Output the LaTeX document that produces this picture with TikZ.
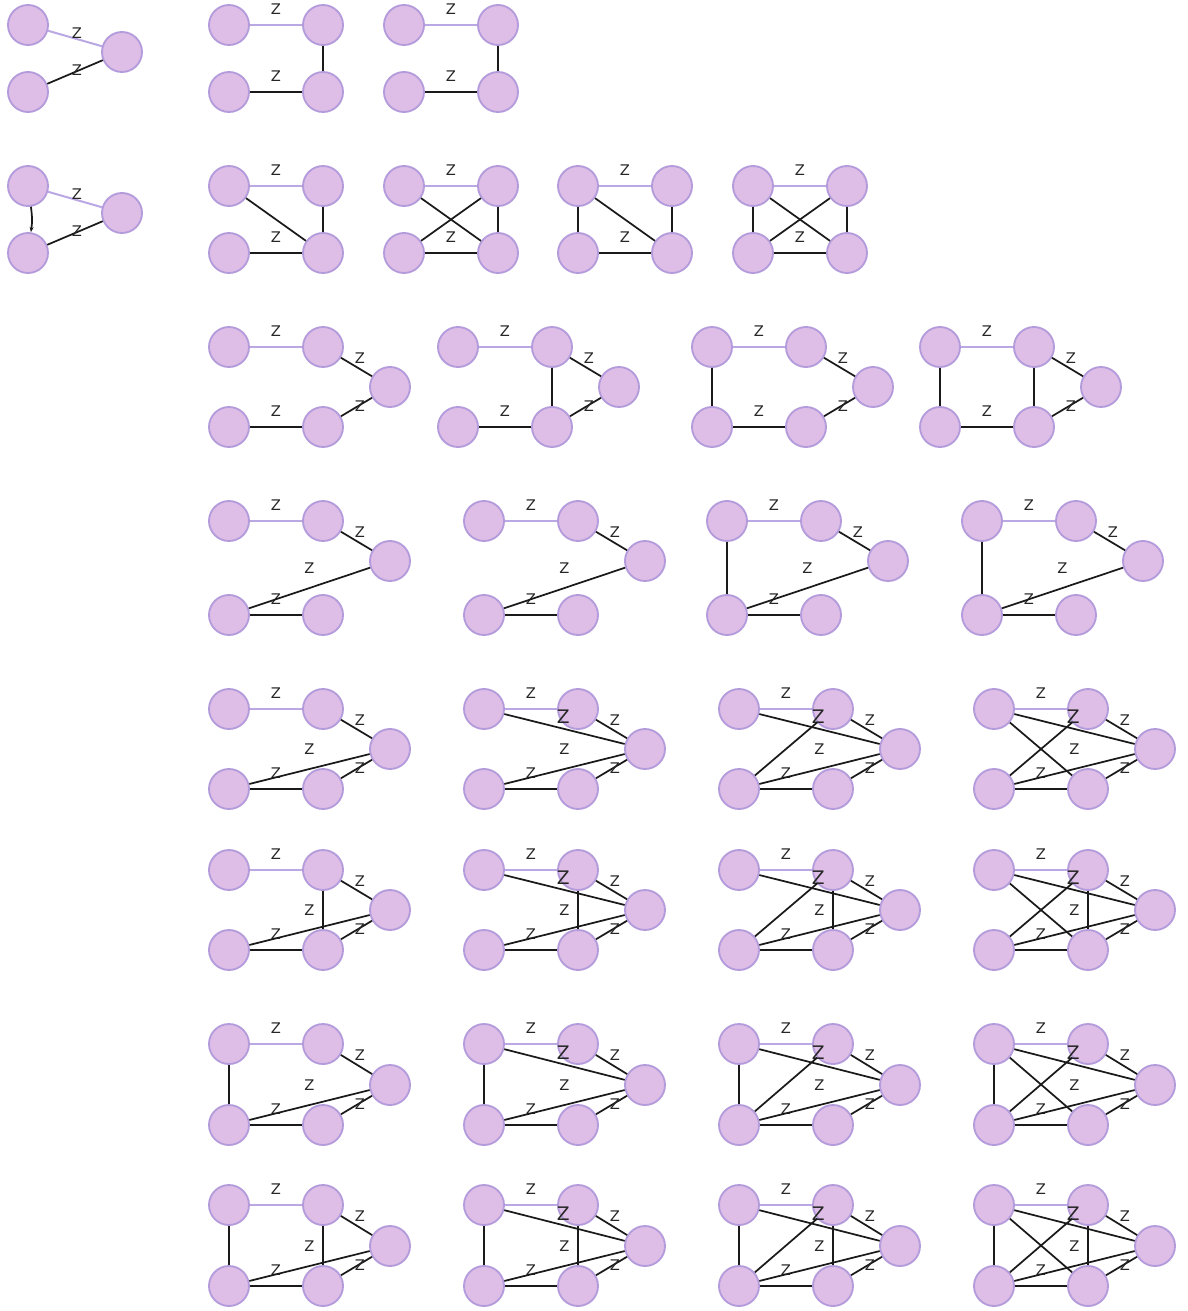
\documentclass[tikz,border=0pt]{standalone}
\usepackage{fontspec}
\setsansfont{DejaVu Sans}
\usetikzlibrary{arrows.meta}
\definecolor{vfill}{HTML}{DEBEE6}
\definecolor{vline}{HTML}{B49CDC}
\definecolor{lavedge}{HTML}{B9A8E4}
\definecolor{ink}{HTML}{1A1A1A}
\definecolor{zgray}{HTML}{262626}
\tikzset{
  % a vertex
  vtx/.style={circle, draw=vline, fill=vfill, line width=1.4pt,
    minimum size=30pt, inner sep=0pt},
  % edges
  lav/.style={draw=lavedge, line width=1.5pt},
  blk/.style={draw=ink, line width=1.3pt},
  % edge labels
  zl/.style={font=\sffamily\fontsize{11}{12}\selectfont, text=zgray,
    inner sep=0pt, midway},
  zh/.style={zl, yshift=12pt},
  zu/.style={zl, xshift=2.5pt, yshift=7pt},
  zd/.style={zl, xshift=2.5pt, yshift=1pt},
  zr/.style={zl, yshift=15pt},
  zf/.style={zl, font=\sffamily\fontsize{14}{15}\selectfont, xshift=-1pt, yshift=9pt},
  zs/.style={zl, xshift=1.5pt, yshift=4pt},
  zt/.style={zl, xshift=1.5pt, yshift=1.5pt},
}
% four vertices of a square: prefix, x, top y, bottom y
\newcommand{\sqnodes}[4]{%
  \node[vtx] (#1tl) at (#2,#3) {};
  \node[vtx] (#1tr) at ({#2+94},#3) {};
  \node[vtx] (#1bl) at (#2,#4) {};
  \node[vtx] (#1br) at ({#2+94},#4) {};}
% square plus a vertex on the right
\newcommand{\pentnodes}[5]{%
  \sqnodes{#1}{#2}{#3}{#4}
  \node[vtx] (#1r) at ({#2+161},#5) {};}
% three vertices: prefix, top y, bottom y, right y
\newcommand{\trinodes}[4]{%
  \node[vtx] (#1tl) at (28,#2) {};
  \node[vtx] (#1bl) at (28,#3) {};
  \node[vtx] (#1r) at (122,#4) {};}
\newcommand{\rails}[1]{%
  \draw[lav] (#1tl) -- (#1tr) node[zh]{Z};
  \draw[blk] (#1bl) -- (#1br) node[zh]{Z};}
\newcommand{\wing}[1]{%
  \draw[blk] (#1tr) -- (#1r) node[zu]{Z};
  \draw[blk] (#1br) -- (#1r) node[zd]{Z};}
\newcommand{\fan}[1]{%
  \rails{#1}\wing{#1}
  \draw[blk] (#1bl) -- (#1r) node[zr]{Z};}

\begin{document}
\begin{tikzpicture}[x=0.75pt, y=-0.75pt]
  \useasboundingbox (0,0) rectangle (1188,1311);

  % row 1
  \trinodes{a1}{25}{92}{52}
  \draw[lav] (a1tl) -- (a1r) node[zs]{Z};
  \draw[blk] (a1bl) -- (a1r) node[zt]{Z};
  \sqnodes{a2}{229}{25}{92} \rails{a2}
  \draw[blk] (a2tr) -- (a2br);
  \sqnodes{a3}{404}{25}{92} \rails{a3}
  \draw[blk] (a3tr) -- (a3br);

  % row 2
  \trinodes{b1}{186}{253}{213}
  \draw[lav] (b1tl) -- (b1r) node[zs]{Z};
  \draw[blk] (b1bl) -- (b1r) node[zt]{Z};
  \draw[blk, -{Stealth[length=4pt, width=3pt]}] (b1tl) to[bend left=8] (b1bl);
  \sqnodes{b2}{229}{186}{253} \rails{b2}
  \draw[blk] (b2tr) -- (b2br);
  \draw[blk] (b2tl) -- (b2br);
  \sqnodes{b3}{404}{186}{253} \rails{b3}
  \draw[blk] (b3tr) -- (b3br);
  \draw[blk] (b3tl) -- (b3br);
  \draw[blk] (b3bl) -- (b3tr);
  \sqnodes{b4}{578}{186}{253} \rails{b4}
  \draw[blk] (b4tl) -- (b4bl);
  \draw[blk] (b4tr) -- (b4br);
  \draw[blk] (b4tl) -- (b4br);
  \sqnodes{b5}{753}{186}{253} \rails{b5}
  \draw[blk] (b5tl) -- (b5bl);
  \draw[blk] (b5tr) -- (b5br);
  \draw[blk] (b5tl) -- (b5br);
  \draw[blk] (b5bl) -- (b5tr);

  % row 3
  \pentnodes{c1}{229}{347}{427}{387} \rails{c1}\wing{c1}
  \pentnodes{c2}{458}{347}{427}{387} \rails{c2}\wing{c2}
  \draw[blk] (c2tr) -- (c2br);
  \pentnodes{c3}{712}{347}{427}{387} \rails{c3}\wing{c3}
  \draw[blk] (c3tl) -- (c3bl);
  \pentnodes{c4}{940}{347}{427}{387} \rails{c4}\wing{c4}
  \draw[blk] (c4tl) -- (c4bl);
  \draw[blk] (c4tr) -- (c4br);

  % row 4
  \pentnodes{d1}{229}{521}{615}{561} \rails{d1}
  \draw[blk] (d1tr) -- (d1r) node[zu]{Z};
  \draw[blk] (d1bl) -- (d1r) node[zr]{Z};
  \pentnodes{d2}{484}{521}{615}{561} \rails{d2}
  \draw[blk] (d2tr) -- (d2r) node[zu]{Z};
  \draw[blk] (d2bl) -- (d2r) node[zr]{Z};
  \pentnodes{d3}{727}{521}{615}{561} \rails{d3}
  \draw[blk] (d3tl) -- (d3bl);
  \draw[blk] (d3tr) -- (d3r) node[zu]{Z};
  \draw[blk] (d3bl) -- (d3r) node[zr]{Z};
  \pentnodes{d4}{982}{521}{615}{561} \rails{d4}
  \draw[blk] (d4tl) -- (d4bl);
  \draw[blk] (d4tr) -- (d4r) node[zu]{Z};
  \draw[blk] (d4bl) -- (d4r) node[zr]{Z};

  % row 5
  \pentnodes{e1}{229}{709}{789}{749} \fan{e1}
  \pentnodes{e2}{484}{709}{789}{749} \fan{e2}
  \draw[blk] (e2tl) -- (e2r) node[zf]{Z};
  \pentnodes{e3}{739}{709}{789}{749} \fan{e3}
  \draw[blk] (e3tl) -- (e3r) node[zf]{Z};
  \draw[blk] (e3bl) -- (e3tr);
  \pentnodes{e4}{994}{709}{789}{749} \fan{e4}
  \draw[blk] (e4tl) -- (e4r) node[zf]{Z};
  \draw[blk] (e4bl) -- (e4tr);
  \draw[blk] (e4tl) -- (e4br);

  % row 6
  \pentnodes{f1}{229}{870}{950}{910} \fan{f1}
  \draw[blk] (f1tr) -- (f1br);
  \pentnodes{f2}{484}{870}{950}{910} \fan{f2}
  \draw[blk] (f2tr) -- (f2br);
  \draw[blk] (f2tl) -- (f2r) node[zf]{Z};
  \pentnodes{f3}{739}{870}{950}{910} \fan{f3}
  \draw[blk] (f3tr) -- (f3br);
  \draw[blk] (f3tl) -- (f3r) node[zf]{Z};
  \draw[blk] (f3bl) -- (f3tr);
  \pentnodes{f4}{994}{870}{950}{910} \fan{f4}
  \draw[blk] (f4tr) -- (f4br);
  \draw[blk] (f4tl) -- (f4r) node[zf]{Z};
  \draw[blk] (f4bl) -- (f4tr);
  \draw[blk] (f4tl) -- (f4br);

  % row 7
  \pentnodes{g1}{229}{1044}{1125}{1085} \fan{g1}
  \draw[blk] (g1tl) -- (g1bl);
  \pentnodes{g2}{484}{1044}{1125}{1085} \fan{g2}
  \draw[blk] (g2tl) -- (g2bl);
  \draw[blk] (g2tl) -- (g2r) node[zf]{Z};
  \pentnodes{g3}{739}{1044}{1125}{1085} \fan{g3}
  \draw[blk] (g3tl) -- (g3bl);
  \draw[blk] (g3tl) -- (g3r) node[zf]{Z};
  \draw[blk] (g3bl) -- (g3tr);
  \pentnodes{g4}{994}{1044}{1125}{1085} \fan{g4}
  \draw[blk] (g4tl) -- (g4bl);
  \draw[blk] (g4tl) -- (g4r) node[zf]{Z};
  \draw[blk] (g4bl) -- (g4tr);
  \draw[blk] (g4tl) -- (g4br);

  % row 8
  \pentnodes{h1}{229}{1205}{1286}{1246} \fan{h1}
  \draw[blk] (h1tl) -- (h1bl);
  \draw[blk] (h1tr) -- (h1br);
  \pentnodes{h2}{484}{1205}{1286}{1246} \fan{h2}
  \draw[blk] (h2tl) -- (h2bl);
  \draw[blk] (h2tr) -- (h2br);
  \draw[blk] (h2tl) -- (h2r) node[zf]{Z};
  \pentnodes{h3}{739}{1205}{1286}{1246} \fan{h3}
  \draw[blk] (h3tl) -- (h3bl);
  \draw[blk] (h3tr) -- (h3br);
  \draw[blk] (h3tl) -- (h3r) node[zf]{Z};
  \draw[blk] (h3bl) -- (h3tr);
  \pentnodes{h4}{994}{1205}{1286}{1246} \fan{h4}
  \draw[blk] (h4tl) -- (h4bl);
  \draw[blk] (h4tr) -- (h4br);
  \draw[blk] (h4tl) -- (h4r) node[zf]{Z};
  \draw[blk] (h4bl) -- (h4tr);
  \draw[blk] (h4tl) -- (h4br);

\end{tikzpicture}
\end{document}
